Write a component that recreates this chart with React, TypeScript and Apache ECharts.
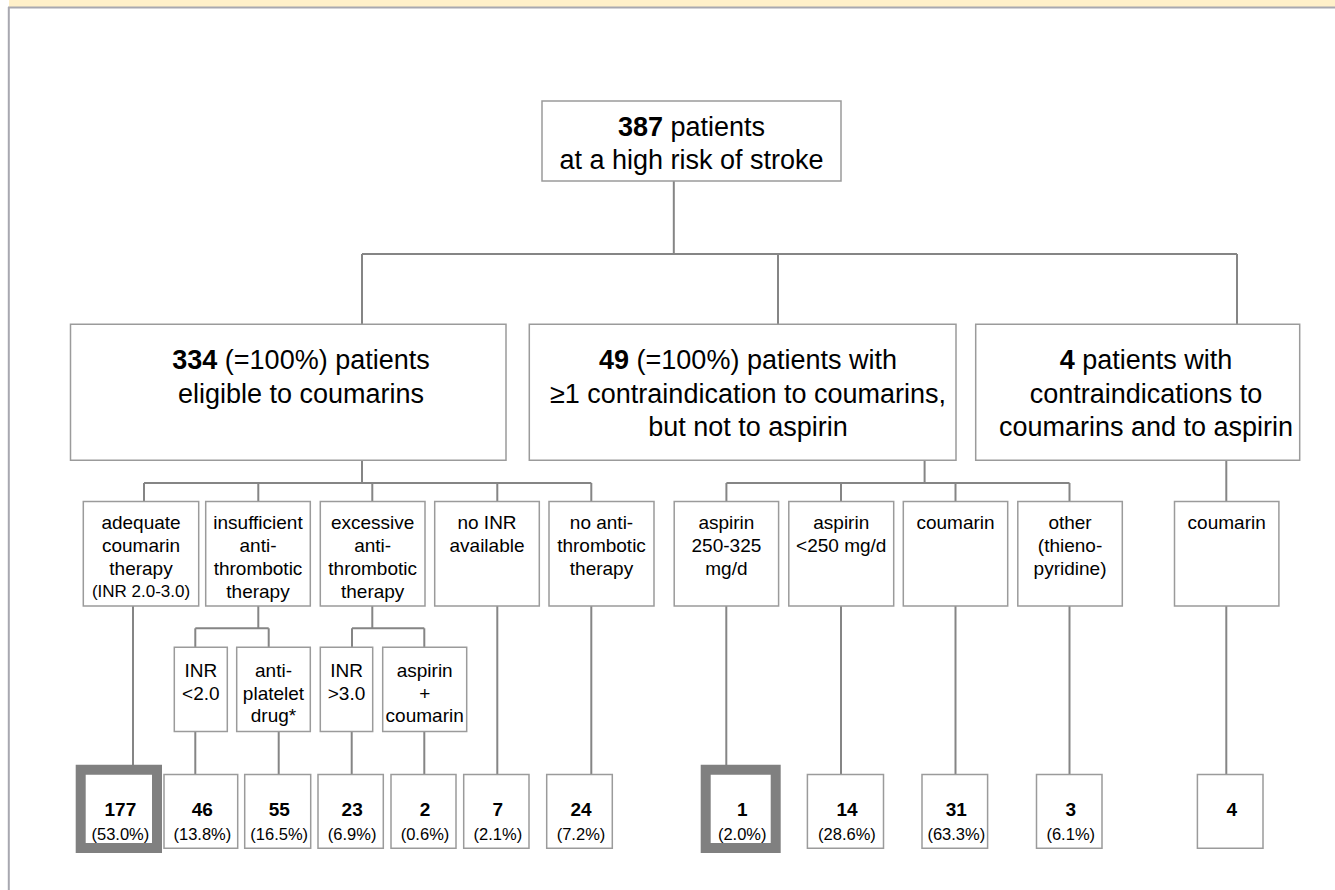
import React, { useEffect, useRef } from "react";
import * as echarts from "echarts";

// ---------- DATA ----------
const rootCount = 387;
const rootText = ["patients", "at a high risk of stroke"];

const groupCounts = [334, 49, 4];
const groupHeads = [" (=100%) patients", " (=100%) patients with", " patients with"];
const groupRest = [
  ["eligible to coumarins"],
  ["\u22651 contraindication to coumarins,", "but not to aspirin"],
  ["contraindications to", "coumarins and to aspirin"],
];

const treatmentLabels = [
  ["adequate", "coumarin", "therapy", "(INR 2.0-3.0)"],
  ["insufficient", "anti-", "thrombotic", "therapy"],
  ["excessive", "anti-", "thrombotic", "therapy"],
  ["no INR", "available"],
  ["no anti-", "thrombotic", "therapy"],
  ["aspirin", "250-325", "mg/d"],
  ["aspirin", "<250 mg/d"],
  ["coumarin"],
  ["other", "(thieno-", "pyridine)"],
  ["coumarin"],
];

const subLabels = [
  ["INR", "<2.0"],
  ["anti-", "platelet", "drug*"],
  ["INR", ">3.0"],
  ["aspirin", "+", "coumarin"],
];

const outcomeCounts = [177, 46, 55, 23, 2, 7, 24, 1, 14, 31, 3, 4];
const outcomePercents = ["53.0%", "13.8%", "16.5%", "6.9%", "0.6%", "2.1%", "7.2%", "2.0%", "28.6%", "63.3%", "6.1%", ""];

// ---------- LAYOUT (positions / sizes) ----------
const rootBox = [542, 101, 841, 181];
const groupBoxX = [[70.5, 506], [529.3, 956], [975.7, 1299.7]];
const groupBoxY = [324.3, 460.3];
const groupTextX = [301, 748, 1146];
const groupInX = [362, 778, 1237];
const groupOutX = [362, 924.6, 1226.3];

const treatBoxX = [
  [83.3, 198.7], [205.7, 310.3], [320.3, 425], [434.7, 539.3], [549, 654],
  [674.2, 778.6], [788.8, 893.7], [903.3, 1007.7], [1017.8, 1122.3], [1174.5, 1278.9],
];
const treatBoxY = [501.5, 606];
const treatInX = [144, 258.3, 372.3, 497.3, 591.3, 726.4, 841, 955.5, 1069.5, 1226.3];
const treatGroup = [0, 0, 0, 0, 0, 1, 1, 1, 1, 2];

const subBoxX = [[174.3, 227.3], [236.7, 310.3], [320.3, 372.7], [382.7, 466.7]];
const subBoxY = [647.3, 731.5];
const subInX = [195.3, 268.7, 352, 424.3];
const subOutX = [195.3, 278.7, 351.7, 424.3];
const subParent = [1, 1, 2, 2];

const outBoxX = [
  [75.7, 162], [164, 237.7], [244.7, 310.7], [318, 383.3], [391, 456], [463.7, 529], [546.7, 612.3],
  [700.7, 780.7], [807.4, 883.5], [922, 987.6], [1036.5, 1102], [1197.4, 1263],
];
const outBoxY = [774.5, 848.3];
const thickBox = [true, false, false, false, false, false, false, true, false, false, false, false];
// source of each outcome: ["t", index] = treatment box, ["s", index] = sub box
const outSource: [string, number][] = [
  ["t", 0], ["s", 0], ["s", 1], ["s", 2], ["s", 3], ["t", 3], ["t", 4],
  ["t", 5], ["t", 6], ["t", 7], ["t", 8], ["t", 9],
];

const FONT = "'Liberation Sans', Arial, Helvetica, sans-serif";
const LINE = "#858585";
const BORDER = "#9b9b9b";

export default function App() {
  const ref = useRef<HTMLDivElement>(null);
  useEffect(() => {
    if (!ref.current) return;
    const chart = echarts.init(ref.current, null, { renderer: "svg" });
    const g: any[] = [];

    const line = (pts: number[][]) =>
      g.push({ type: "polyline", shape: { points: pts }, style: { stroke: LINE, lineWidth: 2, fill: null } });
    const rect = (x1: number, y1: number, x2: number, y2: number, lw = 1.5, stroke = BORDER) =>
      g.push({
        type: "rect",
        shape: { x: x1, y: y1, width: x2 - x1, height: y2 - y1 },
        style: { fill: "#fff", stroke, lineWidth: lw },
      });
    const text = (x: number, y: number, t: string, size: number, lh: number, extra: any = {}) =>
      g.push({
        type: "text",
        x,
        y,
        style: {
          text: t,
          fill: "#000",
          fontFamily: FONT,
          fontSize: size,
          lineHeight: lh,
          align: "center",
          verticalAlign: "top",
          ...extra,
        },
      });

    // frame
    g.push({ type: "rect", shape: { x: 9, y: 0, width: 1326, height: 7 }, style: { fill: "#FFF0C9" } });
    g.push({ type: "line", shape: { x1: 8, y1: 7.5, x2: 1335, y2: 7.5 }, style: { stroke: "#A8A8B0", lineWidth: 2 } });
    g.push({ type: "line", shape: { x1: 8.8, y1: 7, x2: 8.8, y2: 890 }, style: { stroke: "#A8A8B0", lineWidth: 2 } });

    // connectors
    const rootCx = (rootBox[0] + rootBox[2]) / 2;
    const busY1 = 254;
    line([[rootCx - 17.7, rootBox[3]], [rootCx - 17.7, busY1]]);
    line([[groupInX[0], busY1], [groupInX[2], busY1]]);
    groupInX.forEach((x) => line([[x, busY1], [x, groupBoxY[0]]]));

    const busY2 = 483;
    [0, 1].forEach((gi) => {
      const kids = treatInX.filter((_, i) => treatGroup[i] === gi);
      line([[groupOutX[gi], groupBoxY[1]], [groupOutX[gi], busY2]]);
      line([[Math.min(...kids), busY2], [Math.max(...kids), busY2]]);
      kids.forEach((x) => line([[x, busY2], [x, treatBoxY[0]]]));
    });
    line([[groupOutX[2], groupBoxY[1]], [groupOutX[2], treatBoxY[0]]]);

    const busY3 = 628.3;
    [1, 2].forEach((p) => {
      const kids = subInX.filter((_, i) => subParent[i] === p);
      line([[treatInX[p], treatBoxY[1]], [treatInX[p], busY3]]);
      line([[Math.min(...kids), busY3], [Math.max(...kids), busY3]]);
      kids.forEach((x) => line([[x, busY3], [x, subBoxY[0]]]));
    });

    const outLineX = [133, 195.3, 278.7, 351.7, 424.3, 497.3, 591.3, 726.3, 841, 955.5, 1069.5, 1226.3];
    outSource.forEach(([kind, idx], i) => {
      const y0 = kind === "t" ? treatBoxY[1] : subBoxY[1];
      line([[outLineX[i], y0], [outLineX[i], outBoxY[0] - (thickBox[i] ? 5 : 0)]]);
    });

    // root box
    rect(rootBox[0], rootBox[1], rootBox[2], rootBox[3]);
    text(rootCx, 110, `{b|${rootCount}} ${rootText[0]}\n${rootText[1]}`, 27, 33.3, {
      rich: { b: { fontWeight: "bold", fontSize: 27, fontFamily: FONT, lineHeight: 33.3 } },
    });

    // group boxes
    groupCounts.forEach((c, i) => {
      rect(groupBoxX[i][0], groupBoxY[0], groupBoxX[i][1], groupBoxY[1]);
      const t = `{b|${c}}${groupHeads[i]}\n` + groupRest[i].join("\n");
      text(groupTextX[i], 343.3, t, 27, 33.5, {
        rich: { b: { fontWeight: "bold", fontSize: 27, fontFamily: FONT, lineHeight: 33.5 } },
      });
    });

    // treatment boxes
    treatmentLabels.forEach((lines, i) => {
      const [x1, x2] = treatBoxX[i];
      rect(x1, treatBoxY[0], x2, treatBoxY[1]);
      const parts = lines.map((l) => (l.startsWith("(INR") ? `{s|${l}}` : l));
      text((x1 + x2) / 2, 511.2, parts.join("\n"), 19, 23, {
        rich: { s: { fontSize: 17, fontFamily: FONT, lineHeight: 23 } },
      });
    });

    // sub boxes
    subLabels.forEach((lines, i) => {
      const [x1, x2] = subBoxX[i];
      rect(x1, subBoxY[0], x2, subBoxY[1]);
      text((x1 + x2) / 2, 659.8, lines.join("\n"), 19, 22.3);
    });

    // outcome boxes
    outcomeCounts.forEach((c, i) => {
      const [x1, x2] = outBoxX[i];
      if (thickBox[i]) {
        rect(x1 + 5, outBoxY[0] - 4.8, x2 - 5, outBoxY[1] + 4.7 - 10 + 5, 10, "#808080");
      } else {
        rect(x1, outBoxY[0], x2, outBoxY[1]);
      }
      const cx = (x1 + x2) / 2 + 1.5;
      text(cx, 809, String(c), 19, 22, { verticalAlign: "middle", fontWeight: "bold" });
      if (outcomePercents[i]) text(cx, 833.5, `(${outcomePercents[i]})`, 16.5, 20, { verticalAlign: "middle" });
    });

    chart.setOption({ animation: false, graphic: { elements: g } });
    return () => chart.dispose();
  }, []);
  return (
    <div
      ref={ref}
      style={{ position: "fixed", left: 0, top: 0, width: 1335, height: 890, background: "#fff" }}
    />
  );
}
